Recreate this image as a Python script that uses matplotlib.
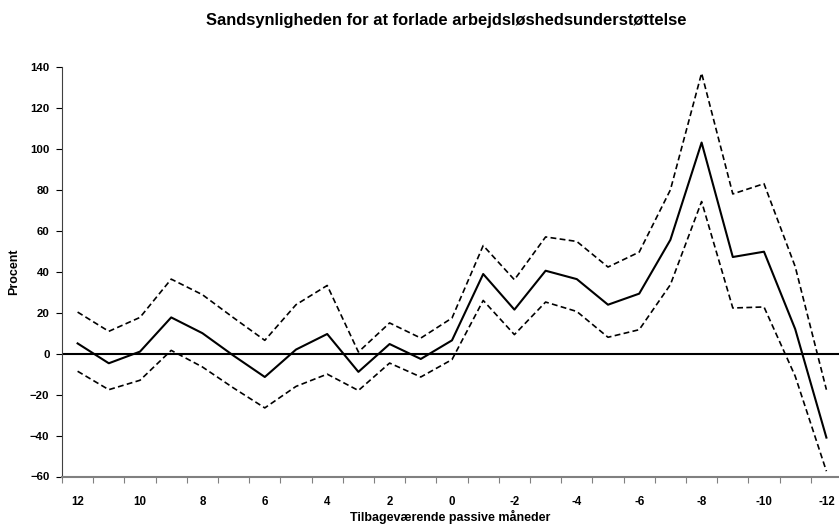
import matplotlib
matplotlib.use("Agg")
import matplotlib.pyplot as plt
import numpy as np

plt.rcParams["font.family"] = ["Liberation Sans", "DejaVu Sans"]
plt.rcParams["font.weight"] = "bold"

# Remaining passive months, 12 down to -12
months = list(range(12, -13, -1))
estimate = [5, -4.7, 1, 17.7, 10, -1, -11.4, 2, 9.6, -8.9, 4.7, -2.6, 6.5,
            38.9, 21.5, 40.5, 36.4, 23.9, 29.3, 55.6, 103.1, 47.2, 49.8, 12, -41]
upper = [20.3, 10.9, 17.7, 36.4, 28.8, 17.5, 6.5, 23.9, 33.3, 0.8, 15, 7.6, 17.4,
         52.8, 36.1, 57, 54.8, 42.3, 49.6, 80, 137, 78, 83, 42.5, -17.6]
lower = [-8.6, -17.6, -13, 1.6, -6.5, -16.8, -26.5, -16, -10, -18, -4.6, -11.4, -2.9,
         26, 9.3, 25.2, 20.6, 8, 11.7, 33.7, 74.3, 22.3, 22.8, -11, -57.4]
label_months = months[::2]

fig = plt.figure(figsize=(8.39, 5.25), dpi=100)
ax = fig.add_axes([62 / 839, 1 - 476.5 / 525, 780 / 839, 409.5 / 525])

x = np.arange(len(months))
ax.plot(x, upper, color="black", lw=1.2, ls=(0, (3.5, 2)))
ax.plot(x, lower, color="black", lw=1.2, ls=(0, (3.5, 2)))
ax.plot(x, estimate, color="black", lw=1.5)
ax.axhline(0, color="black", lw=1.5)

ax.set_xlim(-0.5, len(months) - 0.5)
ax.set_ylim(-60, 140)
ax.set_yticks(np.arange(-60, 141, 20))
ax.tick_params(axis="y", labelsize=8.2, length=4, direction="out", pad=5)

# category boundaries carry tick marks, every second category carries a label
ax.set_xticks(np.arange(-0.5, len(months), 1))
ax.set_xticklabels([])
ax.tick_params(axis="x", which="major", length=4, direction="out", color="#808080")
ax.set_xticks(x[::2], minor=True)
ax.set_xticklabels([str(m) for m in label_months], minor=True)
ax.tick_params(axis="x", which="minor", length=0, labelsize=8.3, pad=14)

for side in ("top", "right"):
    ax.spines[side].set_visible(False)
ax.spines["bottom"].set_color("#808080")
ax.spines["bottom"].set_linewidth(1.5)
ax.spines["left"].set_color("#404040")

ax.set_ylabel("Procent", fontsize=9, fontweight="bold", labelpad=7)
fig.text(450 / 839, 1 - 517 / 525, "Tilbageværende passive måneder",
         ha="center", va="center", fontsize=9, fontweight="bold")
fig.text(446 / 839, 1 - 20 / 525, "Sandsynligheden for at forlade arbejdsløshedsunderstøttelse",
         ha="center", va="center", fontsize=11.9, fontweight="bold")

fig.savefig("out.png", dpi=100)
